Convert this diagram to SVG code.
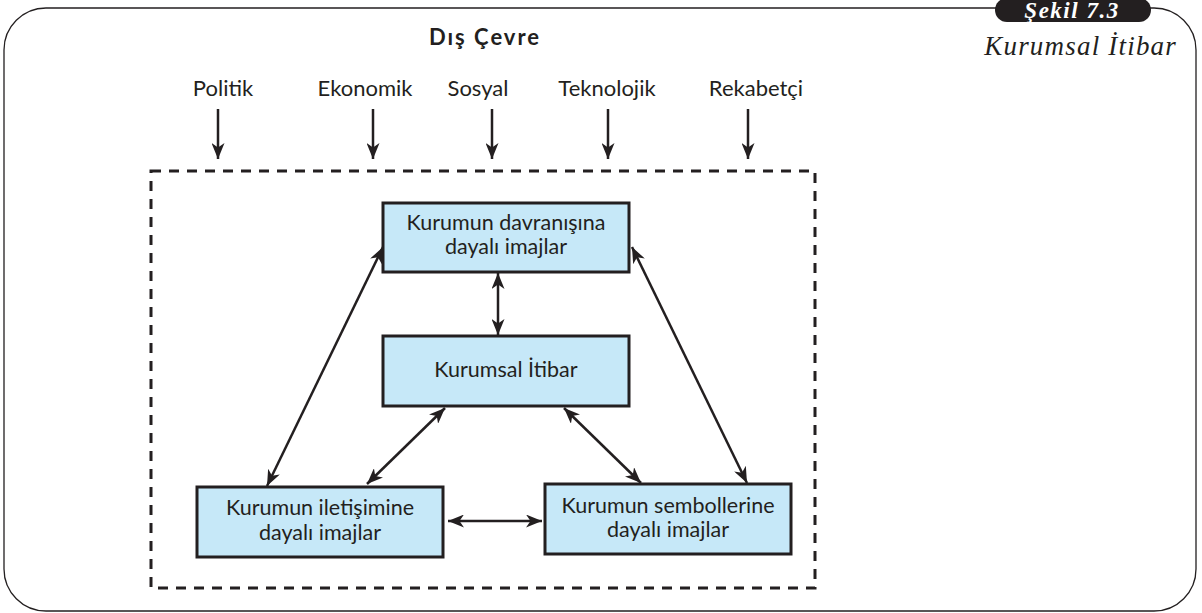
<svg xmlns="http://www.w3.org/2000/svg" width="1202" height="613" viewBox="0 0 1202 613">
  <style>
    .frame { fill: none; stroke: #231f20; stroke-width: 1.3; }
    .env { fill: none; stroke: #231f20; stroke-width: 3; stroke-dasharray: 10 8; }
    .box { fill: #c6e8f8; stroke: #231f20; stroke-width: 3; }
    .lbl { font-family: Lato, "Open Sans", sans-serif; font-size: 21.5px; fill: #231f20; text-anchor: middle; }
    .force { font-family: Lato, "Open Sans", sans-serif; font-size: 22px; fill: #231f20; text-anchor: middle; }
    .head { font-family: Lato, "Open Sans", sans-serif; font-size: 22px; font-weight: bold; fill: #231f20; text-anchor: middle; letter-spacing: 2px; }
    .cap { font-family: "Liberation Serif", serif; font-style: italic; font-size: 27px; fill: #231f20; text-anchor: end; letter-spacing: 1.2px; }
    .tag { font-family: "Liberation Serif", serif; font-style: italic; font-weight: bold; font-size: 23px; fill: #ffffff; text-anchor: middle; letter-spacing: 1.5px; }
    .conn { fill: none; stroke: #231f20; stroke-width: 2.5; }
  </style>
  <defs>
    <marker id="arr" markerUnits="userSpaceOnUse" markerWidth="16" markerHeight="13" refX="16" refY="6.5" orient="auto-start-reverse" viewBox="0 0 16 13">
      <path d="M0,0 L16,6.5 L0,13 L4.5,6.5 Z" fill="#231f20"/>
    </marker>
  </defs>

  <!-- outer frame with figure tag -->
  <g id="frame">
    <path class="frame" d="M48,8 H1154 A42,42 0 0 1 1196,50 V569 A42,42 0 0 1 1154,611 H46 A42,42 0 0 1 4,569 V50 A42,42 0 0 1 46,8 Z"/>
    <rect x="995" y="-2" width="156" height="24" rx="12" fill="#231f20"/>
    <text class="tag" x="1072" y="18">Şekil 7.3</text>
    <text class="cap" x="1177" y="55">Kurumsal İtibar</text>
  </g>

  <!-- external environment -->
  <g id="environment">
    <rect class="env" x="151" y="171" width="664" height="417"/>
    <text class="head" x="485" y="45">Dış Çevre</text>
    <text class="force" x="223" y="96">Politik</text>
    <text class="force" x="365" y="96">Ekonomik</text>
    <text class="force" x="478" y="96">Sosyal</text>
    <text class="force" x="607" y="96">Teknolojik</text>
    <text class="force" x="756" y="96">Rekabetçi</text>
  </g>

  <g id="node-davranis">
    <rect class="box" x="383" y="203" width="246" height="69"/>
    <text class="lbl" x="506" y="230">Kurumun davranışına</text>
    <text class="lbl" x="506" y="254">dayalı imajlar</text>
  </g>

  <g id="node-itibar">
    <rect class="box" x="383" y="336" width="246" height="70"/>
    <text class="lbl" x="506" y="377">Kurumsal İtibar</text>
  </g>

  <g id="node-iletisim">
    <rect class="box" x="197" y="487" width="246" height="70"/>
    <text class="lbl" x="320" y="515">Kurumun iletişimine</text>
    <text class="lbl" x="320" y="540">dayalı imajlar</text>
  </g>

  <g id="node-semboller">
    <rect class="box" x="545" y="484" width="246" height="70"/>
    <text class="lbl" x="668" y="513">Kurumun sembollerine</text>
    <text class="lbl" x="668" y="537">dayalı imajlar</text>
  </g>

  <g id="connectors">
    <!-- environmental forces -->
    <line class="conn" x1="218" y1="109" x2="218" y2="159" marker-end="url(#arr)"/>
    <line class="conn" x1="373" y1="109" x2="373" y2="159" marker-end="url(#arr)"/>
    <line class="conn" x1="492" y1="109" x2="492" y2="159" marker-end="url(#arr)"/>
    <line class="conn" x1="608" y1="109" x2="608" y2="159" marker-end="url(#arr)"/>
    <line class="conn" x1="748" y1="109" x2="748" y2="159" marker-end="url(#arr)"/>
    <!-- two-way relations -->
    <line class="conn" x1="498" y1="273" x2="498" y2="335" marker-start="url(#arr)" marker-end="url(#arr)"/>
    <line class="conn" x1="267" y1="486" x2="383" y2="247" marker-start="url(#arr)" marker-end="url(#arr)"/>
    <line class="conn" x1="632" y1="247" x2="747" y2="483" marker-start="url(#arr)" marker-end="url(#arr)"/>
    <line class="conn" x1="445" y1="408" x2="367" y2="484" marker-start="url(#arr)" marker-end="url(#arr)"/>
    <line class="conn" x1="564" y1="408" x2="641" y2="483" marker-start="url(#arr)" marker-end="url(#arr)"/>
    <line class="conn" x1="448" y1="521" x2="542" y2="521" marker-start="url(#arr)" marker-end="url(#arr)"/>
  </g>
</svg>
